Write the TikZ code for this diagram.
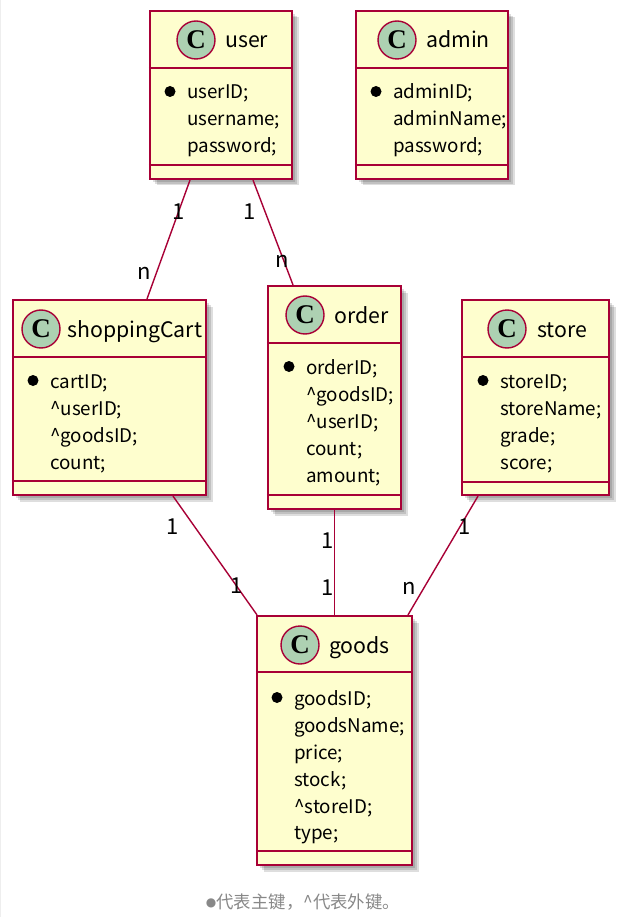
\documentclass[tikz,border=0pt]{standalone}
\usepackage{fontspec}
\setmainfont{Noto Sans CJK SC}
\newfontfamily\dejavu{DejaVu Sans}
\newfontfamily\spotfont{Liberation Serif}
\usetikzlibrary{calc}
\definecolor{umlborder}{HTML}{A80036}
\definecolor{umlfill}{HTML}{FEFECE}
\definecolor{spotfill}{HTML}{ADD1B2}
\definecolor{captiongray}{HTML}{888888}
\definecolor{edgegray}{HTML}{EEEEEE}
\tikzset{
  classnode/.style={draw=umlborder, fill=umlfill, line width=2.2pt, inner sep=0pt, rectangle},
  sepline/.style={draw=umlborder, line width=2.2pt},
  shadowbox/.style={fill=black, opacity=0.13},
  spotcircle/.style={circle, draw=umlborder, fill=spotfill, line width=1.4pt, minimum size=38pt, inner sep=0pt,
     font=\spotfont\bfseries\fontsize{27}{27}\selectfont},
  classname/.style={anchor=base west, inner sep=0pt, font=\fontsize{21.3}{21.3}\selectfont},
  attr/.style={anchor=base west, inner sep=0pt, font=\fontsize{18.8}{18.8}\selectfont},
  keydot/.style={circle, fill=black, minimum size=11pt, inner sep=0pt},
  assoc/.style={draw=umlborder, line width=1.4pt},
  mult/.style={inner sep=0pt, font=\fontsize{22}{22}\selectfont},
}
% #1 id, #2 left, #3 top, #4 right, #5 bottom, #6 header sep, #7 bottom sep
\newcommand\umlbox[7]{%
  \fill[shadowbox] (#2+3,-#3-3) rectangle (#4+3,-#5-3);
  \fill[shadowbox] (#2+5,-#3-5) rectangle (#4+5,-#5-5);
  \fill[shadowbox] (#2+6.5,-#3-6.5) rectangle (#4+6.5,-#5-6.5);
  \node[classnode, minimum width={(#4-#2)*1pt}, minimum height={(#5-#3)*1pt}] (#1) at ({(#2+#4)/2},{-(#3+#5)/2}) {};
  \draw[sepline] ($(#1.north west)+(0,{#3-#6})$) -- ($(#1.north east)+(0,{#3-#6})$);
  \draw[sepline] ($(#1.south west)+(0,{#5-#7})$) -- ($(#1.south east)+(0,{#5-#7})$);
}
% #1 id, #2 circle x, #3 header centre y, #4 name x, #5 name
\newcommand\umlhead[5]{%
  \node[spotcircle] (#1-spot) at (#2,-#3) {C};
  \node[classname] (#1-name) at (#4,{-#3-8}) {#5};
}
% #1 id, #2 x, #3 y centre, #4 text
\newcommand\umlattr[4]{%
  \node[attr] (#1) at (#2,{-#3-7}) {#4};
}
\newcommand\umlkey[3]{%
  \node[keydot] (#1) at ({#2-17},{-#3+0.5}) {};
}
\begin{document}
\begin{tikzpicture}[x=1pt,y=1pt]
\useasboundingbox (0,0) rectangle (624,-917);
\fill[white] (0,0) rectangle (624,-917);
\draw[edgegray, line width=1pt] (0.5,0) -- (0.5,-917);

% user
\umlbox{user}{150}{11}{292}{179}{69}{164}
\umlhead{user}{196}{40}{225}{user}
\umlkey{user-k}{187}{92}
\umlattr{user-a1}{187}{92}{userID;}
\umlattr{user-a2}{187}{119}{username;}
\umlattr{user-a3}{187}{146}{password;}

% admin
\umlbox{admin}{356}{11}{508}{179}{69}{164}
\umlhead{admin}{397}{40}{426}{admin}
\umlkey{admin-k}{393}{92}
\umlattr{admin-a1}{393}{92}{adminID;}
\umlattr{admin-a2}{393}{119}{adminName;}
\umlattr{admin-a3}{393}{146}{password;}

% shoppingCart
\umlbox{cart}{13}{300}{206}{495}{358}{480}
\umlhead{cart}{41}{329}{67}{shoppingCart}
\umlkey{cart-k}{50}{381}
\umlattr{cart-a1}{50}{381}{cartID;}
\umlattr{cart-a2}{50}{408}{\string^userID;}
\umlattr{cart-a3}{50}{435}{\string^goodsID;}
\umlattr{cart-a4}{50}{462}{count;}

% order
\umlbox{order}{268}{286}{401}{509}{344}{494}
\umlhead{order}{305}{315}{334}{order}
\umlkey{order-k}{306}{367}
\umlattr{order-a1}{306}{367}{orderID;}
\umlattr{order-a2}{306}{394}{\string^goodsID;}
\umlattr{order-a3}{306}{421}{\string^userID;}
\umlattr{order-a4}{306}{448}{count;}
\umlattr{order-a5}{306}{475}{amount;}

% store
\umlbox{store}{462}{300}{609}{495}{358}{481}
\umlhead{store}{507}{329}{537}{store}
\umlkey{store-k}{500}{381}
\umlattr{store-a1}{500}{381}{storeID;}
\umlattr{store-a2}{500}{408}{storeName;}
\umlattr{store-a3}{500}{435}{grade;}
\umlattr{store-a4}{500}{462}{score;}

% goods
\umlbox{goods}{257}{616}{412}{865}{673}{850}
\umlhead{goods}{300}{645}{329}{goods}
\umlkey{goods-k}{294}{698}
\umlattr{goods-a1}{294}{698}{goodsID;}
\umlattr{goods-a2}{294}{725}{goodsName;}
\umlattr{goods-a3}{294}{752}{price;}
\umlattr{goods-a4}{294}{779}{stock;}
\umlattr{goods-a5}{294}{806}{\string^storeID;}
\umlattr{goods-a6}{294}{832}{type;}

% associations
\draw[assoc] ([xshift=-31pt]user.south) -- ([xshift=37.5pt]cart.north);
\draw[assoc] ([xshift=32pt]user.south) -- ([xshift=-41.5pt]order.north);
\draw[assoc] ([xshift=63.5pt]cart.south) -- ([xshift=-77.5pt]goods.north);
\draw[assoc] (order.south) -- (goods.north);
\draw[assoc] ([xshift=-57.5pt]store.south) -- ([xshift=73.5pt]goods.north);

% multiplicities
\node[mult] (m1) at (179,-212) {1};
\node[mult] (m2) at (144,-273) {n};
\node[mult] (m3) at (250,-212) {1};
\node[mult] (m4) at (282,-261) {n};
\node[mult] (m5) at (173,-527) {1};
\node[mult] (m6) at (237,-586) {1};
\node[mult] (m7) at (328,-541) {1};
\node[mult] (m8) at (328,-588) {1};
\node[mult] (m9) at (465,-527) {1};
\node[mult] (m10) at (409,-588) {n};

% caption
\node[text=captiongray, inner sep=0pt, font=\fontsize{17.4}{17.4}\selectfont] (caption) at (303,-902)
  {\raisebox{2pt}{\dejavu\fontsize{12}{12}\selectfont ●}代表主键，\string^代表外键。};
\end{tikzpicture}
\end{document}
